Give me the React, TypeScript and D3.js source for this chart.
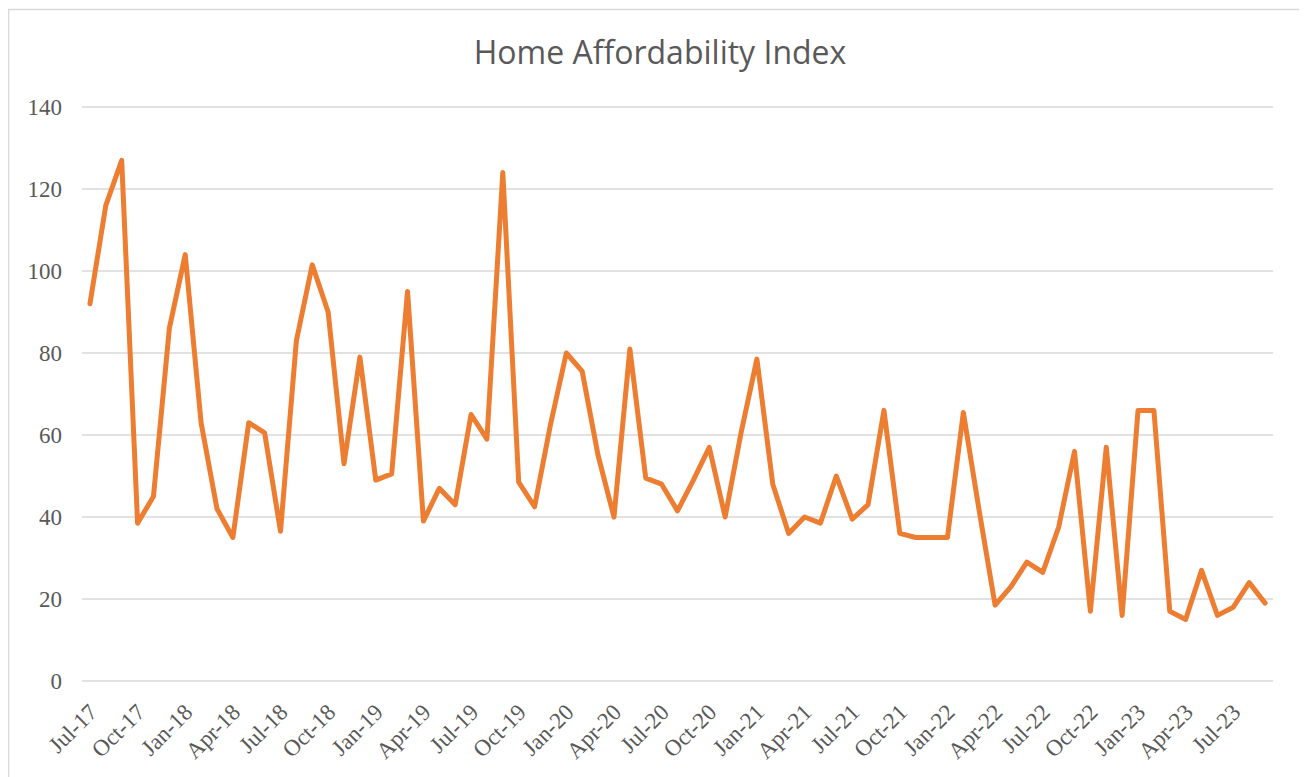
import React from "react";
import * as d3 from "d3";

const months = ["Jan","Feb","Mar","Apr","May","Jun","Jul","Aug","Sep","Oct","Nov","Dec"];

// Monthly index values, Jul-17 .. Sep-23
const values: number[] = [
  92, 116, 127, 38.5, 45, 86, 104, 63, 42, 35, 63, 60.5,
  36.5, 83, 101.5, 90, 53, 79, 49, 50.5, 95, 39, 47, 43,
  65, 59, 124, 48.5, 42.5, 62.5, 80, 75.5, 55, 40, 81, 49.5,
  48, 41.5, 49, 57, 40, 60.5, 78.5, 48, 36, 40, 38.5, 50,
  39.5, 43, 66, 36, 35, 35, 35, 65.5, 41.5, 18.5, 23, 29,
  26.5, 37.5, 56, 17, 57, 16, 66, 66, 17, 15, 27, 16,
  18, 24, 19,
];

const startYear = 2017;
const startMonth = 6; // July (0-based)
const categories: string[] = values.map((_, i) => {
  const m = (startMonth + i) % 12;
  const y = startYear + Math.floor((startMonth + i) / 12);
  return `${months[m]}-${String(y % 100).padStart(2, "0")}`;
});

const yTicks = [0, 20, 40, 60, 80, 100, 120, 140];
const title = "Home Affordability Index";

export default function App() {
  const W = 1299;
  const H = 769;
  // svg is placed at (8,8) by body margin
  const ox = 8, oy = 8;
  const left = 82 - ox, right = 1273 - ox;
  const top = 107 - oy, bottom = 681 - oy;

  const x = d3.scaleBand<string>().domain(categories).range([left, right]).paddingInner(0).paddingOuter(0);
  const y = d3.scaleLinear().domain([0, 140]).range([bottom, top]);

  const line = d3
    .line<number>()
    .x((_, i) => (x(categories[i]) as number) + x.bandwidth() / 2)
    .y((d) => y(d));

  const labelCats = categories.filter((_, i) => i % 3 === 0);

  return (
    <svg width={W} height={H} style={{ display: "block" }}>
      <rect x={0} y={0} width={W} height={H} fill="#ffffff" />
      {/* chart border (extends past visible area) */}
      <line x1={0.5} y1={1} x2={0.5} y2={H} stroke="#D9D9D9" strokeWidth={1.5} />
      <line x1={0} y1={1.5} x2={W} y2={1.5} stroke="#D9D9D9" strokeWidth={1.5} />

      <text
        x={660 - ox}
        y={64 - oy}
        textAnchor="middle"
        fontFamily="'Open Sans', 'Noto Sans', sans-serif"
        fontSize={32}
        fill="#595959"
      >
        {title}
      </text>

      {yTicks.map((t) => (
        <g key={t}>
          <line x1={left} x2={right} y1={y(t)} y2={y(t)} stroke="#D9D9D9" strokeWidth={1.5} />
          <text
            x={62 - ox}
            y={y(t)}
            dy="0.35em"
            textAnchor="end"
            fontFamily="'Liberation Serif', 'Times New Roman', serif"
            fontSize={23}
            fill="#595959"
          >
            {t}
          </text>
        </g>
      ))}

      {labelCats.map((c) => {
        const cx = (x(c) as number) + x.bandwidth() / 2;
        const ty = 708 - oy;
        return (
          <text
            key={c}
            transform={`translate(${cx + 3},${ty}) rotate(-45)`}
            textAnchor="end"
            fontFamily="'Liberation Serif', 'Times New Roman', serif"
            fontSize={23}
            fill="#595959"
            dy="0.35em"
          >
            {c}
          </text>
        );
      })}

      <path
        d={line(values) || ""}
        fill="none"
        stroke="#ED7D31"
        strokeWidth={5}
        strokeLinejoin="round"
        strokeLinecap="round"
      />
    </svg>
  );
}
